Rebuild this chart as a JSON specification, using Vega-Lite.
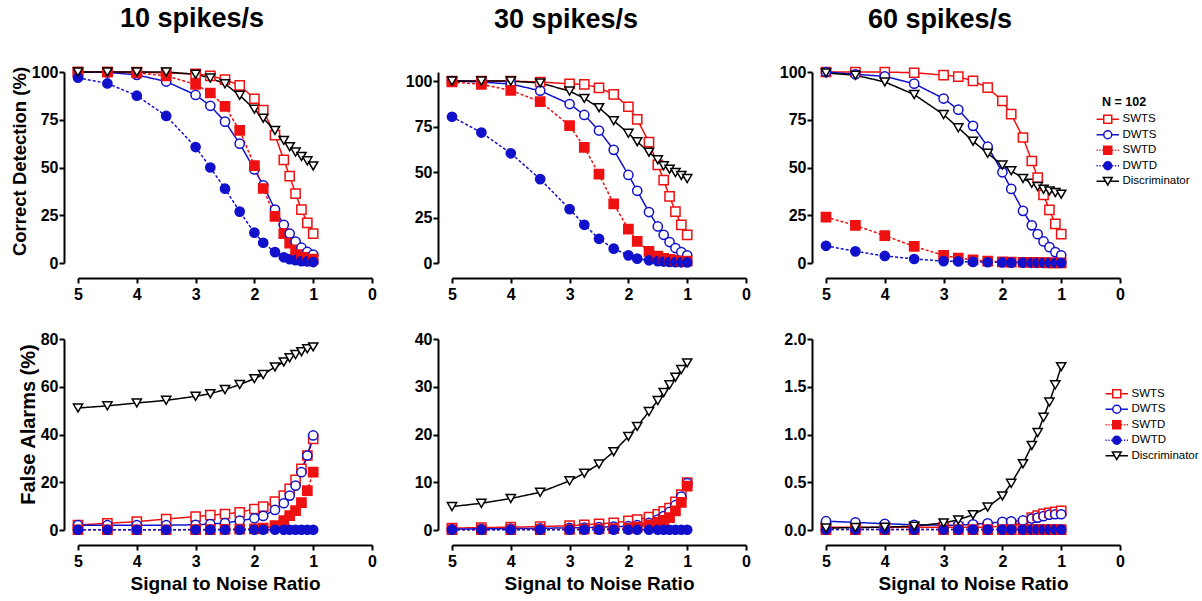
{
  "$schema": "https://vega.github.io/schema/vega-lite/v6.json",
  "padding": {"left": 10, "top": 5, "right": 5, "bottom": 5},
  "background": "white",
  "bounds": "flush",
  "columns": 3,
  "spacing": {"row": 76, "column": 80},
  "data": {"values": [
    {"r":10,"m":"CD","snr":5,"SWTS":100,"DWTS":100,"SWTD":100,"DWTD":97,"Discriminator":100},
    {"r":10,"m":"CD","snr":4.5,"SWTS":100,"DWTS":99.8,"SWTD":100,"DWTD":94,"Discriminator":100},
    {"r":10,"m":"CD","snr":4,"SWTS":100,"DWTS":98.5,"SWTD":99.5,"DWTD":87.6,"Discriminator":100},
    {"r":10,"m":"CD","snr":3.5,"SWTS":99.5,"DWTS":95,"SWTD":98,"DWTD":77,"Discriminator":100},
    {"r":10,"m":"CD","snr":3,"SWTS":99,"DWTS":88,"SWTD":93.5,"DWTD":60.7,"Discriminator":98.8},
    {"r":10,"m":"CD","snr":2.75,"SWTS":98,"DWTS":82.3,"SWTD":89,"DWTD":50,"Discriminator":96.8},
    {"r":10,"m":"CD","snr":2.5,"SWTS":96,"DWTS":74,"SWTD":82,"DWTD":38.9,"Discriminator":93.8},
    {"r":10,"m":"CD","snr":2.25,"SWTS":93,"DWTS":62.5,"SWTD":69.4,"DWTD":26.9,"Discriminator":87.8},
    {"r":10,"m":"CD","snr":2,"SWTS":86,"DWTS":49,"SWTD":51,"DWTD":15.9,"Discriminator":80.5},
    {"r":10,"m":"CD","snr":1.85,"SWTS":80,"DWTS":40.7,"SWTD":39,"DWTD":10.6,"Discriminator":75.8},
    {"r":10,"m":"CD","snr":1.65,"SWTS":67,"DWTS":28,"SWTD":24.4,"DWTD":5.7,"Discriminator":69.4},
    {"r":10,"m":"CD","snr":1.5,"SWTS":54,"DWTS":20,"SWTD":15.4,"DWTD":3,"Discriminator":64.2},
    {"r":10,"m":"CD","snr":1.4,"SWTS":45.5,"DWTS":15.4,"SWTD":10.4,"DWTD":2,"Discriminator":60.9},
    {"r":10,"m":"CD","snr":1.3,"SWTS":36.3,"DWTS":11.2,"SWTD":6.9,"DWTD":1.5,"Discriminator":58.1},
    {"r":10,"m":"CD","snr":1.2,"SWTS":28,"DWTS":8,"SWTD":4.4,"DWTD":1,"Discriminator":55.8},
    {"r":10,"m":"CD","snr":1.1,"SWTS":21,"DWTS":5.8,"SWTD":3,"DWTD":0.8,"Discriminator":53.5},
    {"r":10,"m":"CD","snr":1,"SWTS":15.4,"DWTS":4.4,"SWTD":2,"DWTD":0.5,"Discriminator":50.8},

    {"r":30,"m":"CD","snr":5,"SWTS":100,"DWTS":100,"SWTD":99.5,"DWTD":80.4,"Discriminator":100},
    {"r":30,"m":"CD","snr":4.5,"SWTS":100,"DWTS":99.5,"SWTD":98.2,"DWTD":71.7,"Discriminator":100},
    {"r":30,"m":"CD","snr":4,"SWTS":100,"DWTS":98.4,"SWTD":94.9,"DWTD":60.3,"Discriminator":100},
    {"r":30,"m":"CD","snr":3.5,"SWTS":99.5,"DWTS":94.7,"SWTD":88.7,"DWTD":46.1,"Discriminator":99},
    {"r":30,"m":"CD","snr":3,"SWTS":98.5,"DWTS":87.4,"SWTD":75.5,"DWTD":29.6,"Discriminator":94.5},
    {"r":30,"m":"CD","snr":2.75,"SWTS":98.2,"DWTS":81.4,"SWTD":63.6,"DWTD":21,"Discriminator":90.5},
    {"r":30,"m":"CD","snr":2.5,"SWTS":96.3,"DWTS":72.8,"SWTD":48.8,"DWTD":13.3,"Discriminator":85.4},
    {"r":30,"m":"CD","snr":2.25,"SWTS":92.7,"DWTS":62.2,"SWTD":32.5,"DWTD":7.9,"Discriminator":78.2},
    {"r":30,"m":"CD","snr":2,"SWTS":85.9,"DWTS":48.4,"SWTD":18.6,"DWTD":4.2,"Discriminator":71.3},
    {"r":30,"m":"CD","snr":1.85,"SWTS":79,"DWTS":39.7,"SWTD":11.9,"DWTD":2.4,"Discriminator":66.7},
    {"r":30,"m":"CD","snr":1.65,"SWTS":66.4,"DWTS":28,"SWTD":6.4,"DWTD":1.5,"Discriminator":60.9},
    {"r":30,"m":"CD","snr":1.5,"SWTS":53.9,"DWTS":20.1,"SWTD":3.8,"DWTD":1,"Discriminator":56.7},
    {"r":30,"m":"CD","snr":1.4,"SWTS":45.5,"DWTS":15.5,"SWTD":2.6,"DWTD":0.8,"Discriminator":53.4},
    {"r":30,"m":"CD","snr":1.3,"SWTS":36.6,"DWTS":11.5,"SWTD":2,"DWTD":0.6,"Discriminator":51.6},
    {"r":30,"m":"CD","snr":1.2,"SWTS":28.3,"DWTS":8.2,"SWTD":1.5,"DWTD":0.5,"Discriminator":49.7},
    {"r":30,"m":"CD","snr":1.1,"SWTS":21,"DWTS":6,"SWTD":1.2,"DWTD":0.4,"Discriminator":48.1},
    {"r":30,"m":"CD","snr":1,"SWTS":15.5,"DWTS":4.2,"SWTD":1,"DWTD":0.3,"Discriminator":46.4},

    {"r":60,"m":"CD","snr":5,"SWTS":100,"DWTS":100,"SWTD":24,"DWTD":9,"Discriminator":99.5},
    {"r":60,"m":"CD","snr":4.5,"SWTS":100,"DWTS":98.8,"SWTD":19.7,"DWTD":6.1,"Discriminator":98.3},
    {"r":60,"m":"CD","snr":4,"SWTS":100,"DWTS":97.7,"SWTD":14.3,"DWTD":3.7,"Discriminator":94.8},
    {"r":60,"m":"CD","snr":3.5,"SWTS":99.6,"DWTS":93.9,"SWTD":8.7,"DWTD":2.1,"Discriminator":88.2},
    {"r":60,"m":"CD","snr":3,"SWTS":98.4,"DWTS":86.1,"SWTD":4,"DWTD":1,"Discriminator":77.7},
    {"r":60,"m":"CD","snr":2.75,"SWTS":97.6,"DWTS":80.3,"SWTD":2.6,"DWTD":0.8,"Discriminator":70.8},
    {"r":60,"m":"CD","snr":2.5,"SWTS":95.3,"DWTS":71.8,"SWTD":1.6,"DWTD":0.6,"Discriminator":63.8},
    {"r":60,"m":"CD","snr":2.25,"SWTS":91.8,"DWTS":60.9,"SWTD":1,"DWTD":0.4,"Discriminator":57.4},
    {"r":60,"m":"CD","snr":2,"SWTS":84.9,"DWTS":47.5,"SWTD":0.6,"DWTD":0.3,"Discriminator":51.3},
    {"r":60,"m":"CD","snr":1.85,"SWTS":77.9,"DWTS":38.8,"SWTD":0.5,"DWTD":0.2,"Discriminator":48.3},
    {"r":60,"m":"CD","snr":1.65,"SWTS":65.7,"DWTS":27.3,"SWTD":0.4,"DWTD":0.2,"Discriminator":44.3},
    {"r":60,"m":"CD","snr":1.5,"SWTS":53.4,"DWTS":19.7,"SWTD":0.3,"DWTD":0.1,"Discriminator":41.7},
    {"r":60,"m":"CD","snr":1.4,"SWTS":44.7,"DWTS":15.1,"SWTD":0.2,"DWTD":0.1,"Discriminator":40},
    {"r":60,"m":"CD","snr":1.3,"SWTS":35.7,"DWTS":11.3,"SWTD":0.2,"DWTD":0.1,"Discriminator":38.6},
    {"r":60,"m":"CD","snr":1.2,"SWTS":27.8,"DWTS":8.3,"SWTD":0.1,"DWTD":0.1,"Discriminator":37.7},
    {"r":60,"m":"CD","snr":1.1,"SWTS":20.5,"DWTS":5.7,"SWTD":0.1,"DWTD":0.1,"Discriminator":36.9},
    {"r":60,"m":"CD","snr":1,"SWTS":15.1,"DWTS":4,"SWTD":0.1,"DWTD":0.1,"Discriminator":36},

    {"r":10,"m":"FA","snr":5,"SWTS":2.1,"DWTS":2,"SWTD":0.1,"DWTD":0.1,"Discriminator":51.1},
    {"r":10,"m":"FA","snr":4.5,"SWTS":2.8,"DWTS":2,"SWTD":0.1,"DWTD":0.1,"Discriminator":52},
    {"r":10,"m":"FA","snr":4,"SWTS":3.5,"DWTS":2,"SWTD":0.1,"DWTD":0.1,"Discriminator":53.2},
    {"r":10,"m":"FA","snr":3.5,"SWTS":4.6,"DWTS":2,"SWTD":0.1,"DWTD":0.1,"Discriminator":54.3},
    {"r":10,"m":"FA","snr":3,"SWTS":5.6,"DWTS":2.2,"SWTD":0.2,"DWTD":0.1,"Discriminator":56},
    {"r":10,"m":"FA","snr":2.75,"SWTS":6.2,"DWTS":2.5,"SWTD":0.2,"DWTD":0.1,"Discriminator":57.1},
    {"r":10,"m":"FA","snr":2.5,"SWTS":6.7,"DWTS":2.9,"SWTD":0.3,"DWTD":0.1,"Discriminator":58.8},
    {"r":10,"m":"FA","snr":2.25,"SWTS":7.4,"DWTS":3.9,"SWTD":0.4,"DWTD":0.1,"Discriminator":60.9},
    {"r":10,"m":"FA","snr":2,"SWTS":8.8,"DWTS":4.9,"SWTD":0.5,"DWTD":0.1,"Discriminator":63.4},
    {"r":10,"m":"FA","snr":1.85,"SWTS":9.8,"DWTS":5.9,"SWTD":0.8,"DWTD":0.1,"Discriminator":65.1},
    {"r":10,"m":"FA","snr":1.65,"SWTS":11.9,"DWTS":8.4,"SWTD":1.8,"DWTD":0.1,"Discriminator":68.3},
    {"r":10,"m":"FA","snr":1.5,"SWTS":14.4,"DWTS":11.2,"SWTD":3.9,"DWTD":0.1,"Discriminator":70.4},
    {"r":10,"m":"FA","snr":1.4,"SWTS":17.2,"DWTS":14.4,"SWTD":6,"DWTD":0.1,"Discriminator":72.1},
    {"r":10,"m":"FA","snr":1.3,"SWTS":21,"DWTS":18.6,"SWTD":8.1,"DWTD":0.1,"Discriminator":73.5},
    {"r":10,"m":"FA","snr":1.2,"SWTS":25.6,"DWTS":24.2,"SWTD":11.5,"DWTD":0.1,"Discriminator":74.7},
    {"r":10,"m":"FA","snr":1.1,"SWTS":31.2,"DWTS":31.2,"SWTD":16.5,"DWTD":0.1,"Discriminator":75.9},
    {"r":10,"m":"FA","snr":1,"SWTS":38.2,"DWTS":39.6,"SWTD":24.2,"DWTD":0.1,"Discriminator":76.7},

    {"r":30,"m":"FA","snr":5,"SWTS":0.4,"DWTS":0.2,"SWTD":0.05,"DWTD":0.05,"Discriminator":4.9},
    {"r":30,"m":"FA","snr":4.5,"SWTS":0.5,"DWTS":0.25,"SWTD":0.05,"DWTD":0.05,"Discriminator":5.6},
    {"r":30,"m":"FA","snr":4,"SWTS":0.6,"DWTS":0.3,"SWTD":0.1,"DWTD":0.05,"Discriminator":6.6},
    {"r":30,"m":"FA","snr":3.5,"SWTS":0.7,"DWTS":0.35,"SWTD":0.1,"DWTD":0.05,"Discriminator":7.9},
    {"r":30,"m":"FA","snr":3,"SWTS":0.9,"DWTS":0.45,"SWTD":0.15,"DWTD":0.05,"Discriminator":10.3},
    {"r":30,"m":"FA","snr":2.75,"SWTS":1.1,"DWTS":0.5,"SWTD":0.2,"DWTD":0.05,"Discriminator":11.9},
    {"r":30,"m":"FA","snr":2.5,"SWTS":1.3,"DWTS":0.6,"SWTD":0.25,"DWTD":0.05,"Discriminator":13.8},
    {"r":30,"m":"FA","snr":2.25,"SWTS":1.5,"DWTS":0.7,"SWTD":0.3,"DWTD":0.05,"Discriminator":16.4},
    {"r":30,"m":"FA","snr":2,"SWTS":1.9,"DWTS":0.8,"SWTD":0.4,"DWTD":0.05,"Discriminator":19.6},
    {"r":30,"m":"FA","snr":1.85,"SWTS":2.2,"DWTS":1,"SWTD":0.6,"DWTD":0.05,"Discriminator":21.7},
    {"r":30,"m":"FA","snr":1.65,"SWTS":2.7,"DWTS":1.5,"SWTD":1.1,"DWTD":0.05,"Discriminator":24.8},
    {"r":30,"m":"FA","snr":1.5,"SWTS":3.3,"DWTS":2.2,"SWTD":1.6,"DWTD":0.05,"Discriminator":27.1},
    {"r":30,"m":"FA","snr":1.4,"SWTS":3.9,"DWTS":2.9,"SWTD":2,"DWTD":0.05,"Discriminator":28.8},
    {"r":30,"m":"FA","snr":1.3,"SWTS":4.6,"DWTS":3.8,"SWTD":2.6,"DWTD":0.05,"Discriminator":30.4},
    {"r":30,"m":"FA","snr":1.2,"SWTS":5.9,"DWTS":5.2,"SWTD":4,"DWTD":0.05,"Discriminator":32},
    {"r":30,"m":"FA","snr":1.1,"SWTS":7.4,"DWTS":7,"SWTD":5.8,"DWTD":0.05,"Discriminator":33.6},
    {"r":30,"m":"FA","snr":1,"SWTS":9.9,"DWTS":9.8,"SWTD":9.2,"DWTD":0.05,"Discriminator":35},

    {"r":60,"m":"FA","snr":5,"SWTS":0.03,"DWTS":0.092,"SWTD":0.005,"DWTD":0.005,"Discriminator":0.02},
    {"r":60,"m":"FA","snr":4.5,"SWTS":0.03,"DWTS":0.08,"SWTD":0.005,"DWTD":0.005,"Discriminator":0.025},
    {"r":60,"m":"FA","snr":4,"SWTS":0.03,"DWTS":0.065,"SWTD":0.005,"DWTD":0.005,"Discriminator":0.03},
    {"r":60,"m":"FA","snr":3.5,"SWTS":0.03,"DWTS":0.055,"SWTD":0.005,"DWTD":0.005,"Discriminator":0.04},
    {"r":60,"m":"FA","snr":3,"SWTS":0.03,"DWTS":0.05,"SWTD":0.005,"DWTD":0.005,"Discriminator":0.074},
    {"r":60,"m":"FA","snr":2.75,"SWTS":0.03,"DWTS":0.05,"SWTD":0.005,"DWTD":0.005,"Discriminator":0.106},
    {"r":60,"m":"FA","snr":2.5,"SWTS":0.03,"DWTS":0.06,"SWTD":0.005,"DWTD":0.005,"Discriminator":0.16},
    {"r":60,"m":"FA","snr":2.25,"SWTS":0.03,"DWTS":0.07,"SWTD":0.005,"DWTD":0.005,"Discriminator":0.24},
    {"r":60,"m":"FA","snr":2,"SWTS":0.04,"DWTS":0.085,"SWTD":0.005,"DWTD":0.005,"Discriminator":0.357},
    {"r":60,"m":"FA","snr":1.85,"SWTS":0.05,"DWTS":0.09,"SWTD":0.005,"DWTD":0.005,"Discriminator":0.489},
    {"r":60,"m":"FA","snr":1.65,"SWTS":0.07,"DWTS":0.1,"SWTD":0.005,"DWTD":0.005,"Discriminator":0.694},
    {"r":60,"m":"FA","snr":1.5,"SWTS":0.13,"DWTS":0.12,"SWTD":0.005,"DWTD":0.005,"Discriminator":0.885},
    {"r":60,"m":"FA","snr":1.4,"SWTS":0.15,"DWTS":0.13,"SWTD":0.005,"DWTD":0.005,"Discriminator":1.02},
    {"r":60,"m":"FA","snr":1.3,"SWTS":0.17,"DWTS":0.145,"SWTD":0.005,"DWTD":0.005,"Discriminator":1.18},
    {"r":60,"m":"FA","snr":1.2,"SWTS":0.18,"DWTS":0.16,"SWTD":0.005,"DWTD":0.005,"Discriminator":1.34},
    {"r":60,"m":"FA","snr":1.1,"SWTS":0.19,"DWTS":0.165,"SWTD":0.005,"DWTD":0.005,"Discriminator":1.52},
    {"r":60,"m":"FA","snr":1,"SWTS":0.2,"DWTS":0.165,"SWTD":0.005,"DWTD":0.005,"Discriminator":1.71}
  ]},
  "transform": [{"fold": ["SWTS","DWTS","SWTD","DWTD","Discriminator"], "as": ["series","value"]}],
  "concat": [
    {
      "width": 294, "height": 191,
      "title": {"text": "10 spikes/s", "frame": "group", "dx": -33, "offset": 31},
      "transform": [{"filter": "datum.r === 10 && datum.m === 'CD'"}],
      "encoding": {
        "x": {"field": "snr", "type": "quantitative", "scale": {"domain": [5,0], "nice": false, "zero": false}, "axis": {"values": [5,4,3,2,1,0], "title": null}},
        "y": {"field": "value", "type": "quantitative", "scale": {"domain": [0,100], "nice": false}, "axis": {"values": [0,25,50,75,100], "title": "Correct Detection (%)", "titleFontSize": 18.5, "titleY": 89}}
      },
      "layer": [
        {"mark": {"type": "line", "strokeWidth": 1.5},
         "encoding": {
           "detail": {"field": "series"},
           "stroke": {"condition": [{"test": "datum.series === 'SWTS' || datum.series === 'SWTD'", "value": "#ee1111"}, {"test": "datum.series === 'DWTS' || datum.series === 'DWTD'", "value": "#1111cc"}], "value": "black"},
           "strokeDash": {"condition": {"test": "datum.series === 'SWTD' || datum.series === 'DWTD'", "value": [3,2]}, "value": [1,0]}}},
        {"mark": {"type": "point", "size": 85, "strokeWidth": 1.5, "opacity": 1},
         "encoding": {
           "shape": {"condition": [{"test": "datum.series === 'SWTS' || datum.series === 'SWTD'", "value": "square"}, {"test": "datum.series === 'DWTS' || datum.series === 'DWTD'", "value": "circle"}], "value": "triangle-down"},
           "stroke": {"condition": [{"test": "datum.series === 'SWTS' || datum.series === 'SWTD'", "value": "#ee1111"}, {"test": "datum.series === 'DWTS' || datum.series === 'DWTD'", "value": "#1111cc"}], "value": "black"},
           "fill": {"condition": [{"test": "datum.series === 'SWTD'", "value": "#ee1111"}, {"test": "datum.series === 'DWTD'", "value": "#1111cc"}], "value": "white"}}}
      ]
    },
    {
      "width": 294, "height": 191,
      "title": {"text": "30 spikes/s", "frame": "group", "dx": -33, "offset": 38},
      "transform": [{"filter": "datum.r === 30 && datum.m === 'CD'"}],
      "encoding": {
        "x": {"field": "snr", "type": "quantitative", "scale": {"domain": [5,0], "nice": false, "zero": false}, "axis": {"values": [5,4,3,2,1,0], "title": null}},
        "y": {"field": "value", "type": "quantitative", "scale": {"domain": [0,105], "nice": false}, "axis": {"values": [0,25,50,75,100], "title": null}}
      },
      "layer": [
        {"mark": {"type": "line", "strokeWidth": 1.5},
         "encoding": {
           "detail": {"field": "series"},
           "stroke": {"condition": [{"test": "datum.series === 'SWTS' || datum.series === 'SWTD'", "value": "#ee1111"}, {"test": "datum.series === 'DWTS' || datum.series === 'DWTD'", "value": "#1111cc"}], "value": "black"},
           "strokeDash": {"condition": {"test": "datum.series === 'SWTD' || datum.series === 'DWTD'", "value": [3,2]}, "value": [1,0]}}},
        {"mark": {"type": "point", "size": 85, "strokeWidth": 1.5, "opacity": 1},
         "encoding": {
           "shape": {"condition": [{"test": "datum.series === 'SWTS' || datum.series === 'SWTD'", "value": "square"}, {"test": "datum.series === 'DWTS' || datum.series === 'DWTD'", "value": "circle"}], "value": "triangle-down"},
           "stroke": {"condition": [{"test": "datum.series === 'SWTS' || datum.series === 'SWTD'", "value": "#ee1111"}, {"test": "datum.series === 'DWTS' || datum.series === 'DWTD'", "value": "#1111cc"}], "value": "black"},
           "fill": {"condition": [{"test": "datum.series === 'SWTD'", "value": "#ee1111"}, {"test": "datum.series === 'DWTD'", "value": "#1111cc"}], "value": "white"}}}
      ]
    },
    {
      "width": 294, "height": 191,
      "title": {"text": "60 spikes/s", "frame": "group", "dx": -33, "offset": 30},
      "transform": [{"filter": "datum.r === 60 && datum.m === 'CD'"}],
      "encoding": {
        "x": {"field": "snr", "type": "quantitative", "scale": {"domain": [5,0], "nice": false, "zero": false}, "axis": {"values": [5,4,3,2,1,0], "title": null}},
        "y": {"field": "value", "type": "quantitative", "scale": {"domain": [0,100], "nice": false}, "axis": {"values": [0,25,50,75,100], "title": null}}
      },
      "layer": [
        {"mark": {"type": "line", "strokeWidth": 1.5},
         "encoding": {
           "detail": {"field": "series"},
           "stroke": {"condition": [{"test": "datum.series === 'SWTS' || datum.series === 'SWTD'", "value": "#ee1111"}, {"test": "datum.series === 'DWTS' || datum.series === 'DWTD'", "value": "#1111cc"}], "value": "black"},
           "strokeDash": {"condition": {"test": "datum.series === 'SWTD' || datum.series === 'DWTD'", "value": [3,2]}, "value": [1,0]}}},
        {"mark": {"type": "point", "size": 85, "strokeWidth": 1.5, "opacity": 1},
         "encoding": {
           "shape": {"condition": [{"test": "datum.series === 'SWTS' || datum.series === 'SWTD'", "value": "square"}, {"test": "datum.series === 'DWTS' || datum.series === 'DWTD'", "value": "circle"}], "value": "triangle-down"},
           "stroke": {"condition": [{"test": "datum.series === 'SWTS' || datum.series === 'SWTD'", "value": "#ee1111"}, {"test": "datum.series === 'DWTS' || datum.series === 'DWTD'", "value": "#1111cc"}], "value": "black"},
           "fill": {"condition": [{"test": "datum.series === 'SWTD'", "value": "#ee1111"}, {"test": "datum.series === 'DWTD'", "value": "#1111cc"}], "value": "white"}}},
        {"transform": [{"filter": "false"}],
         "mark": {"type": "point", "strokeWidth": 1.5},
         "encoding": {
           "shape": {"field": "series", "type": "nominal",
             "scale": {"domain": ["SWTS","DWTS","SWTD","DWTD","Discriminator"], "range": ["M-2.8,0H-1M1,0H2.8M-1,-1H1V1H-1Z", "M-2.8,0H-1M1,0H2.8M1,0A1,1,0,1,1,-1,0A1,1,0,1,1,1,0Z", "M-2.8,0H-2.5M-2.1,0H-1.8M-1.4,0H-1.1M1.1,0H1.4M1.8,0H2.1M2.5,0H2.8M-1,-1H1V1H-1Z", "M-2.8,0H-2.5M-2.1,0H-1.8M-1.4,0H-1.1M1.1,0H1.4M1.8,0H2.1M2.5,0H2.8M1,0A1,1,0,1,1,-1,0A1,1,0,1,1,1,0Z", "M-2.8,0H-0.55M0.55,0H2.8M-1.1,-0.95H1.1L0,0.95Z"]},
             "legend": {"title": "N = 102", "orient": "none", "legendX": 276, "legendY": 24}},
           "stroke": {"field": "series", "type": "nominal", "scale": {"domain": ["SWTS","DWTS","SWTD","DWTD","Discriminator"], "range": ["#ee1111","#1111cc","#ee1111","#1111cc","black"]}},
           "fill": {"field": "series", "type": "nominal", "scale": {"domain": ["SWTS","DWTS","SWTD","DWTD","Discriminator"], "range": ["white","white","#ee1111","#1111cc","white"]}}}}
      ]
    },
    {
      "width": 294, "height": 191,
      "transform": [{"filter": "datum.r === 10 && datum.m === 'FA'"}],
      "encoding": {
        "x": {"field": "snr", "type": "quantitative", "scale": {"domain": [5,0], "nice": false, "zero": false}, "axis": {"values": [5,4,3,2,1,0], "title": "Signal to Noise Ratio"}},
        "y": {"field": "value", "type": "quantitative", "scale": {"domain": [0,80], "nice": false}, "axis": {"values": [0,20,40,60,80], "title": "False Alarms (%)", "titleFontSize": 20, "titleY": 85}}
      },
      "layer": [
        {"mark": {"type": "line", "strokeWidth": 1.5},
         "encoding": {
           "detail": {"field": "series"},
           "stroke": {"condition": [{"test": "datum.series === 'SWTS' || datum.series === 'SWTD'", "value": "#ee1111"}, {"test": "datum.series === 'DWTS' || datum.series === 'DWTD'", "value": "#1111cc"}], "value": "black"},
           "strokeDash": {"condition": {"test": "datum.series === 'SWTD' || datum.series === 'DWTD'", "value": [3,2]}, "value": [1,0]}}},
        {"mark": {"type": "point", "size": 85, "strokeWidth": 1.5, "opacity": 1},
         "encoding": {
           "shape": {"condition": [{"test": "datum.series === 'SWTS' || datum.series === 'SWTD'", "value": "square"}, {"test": "datum.series === 'DWTS' || datum.series === 'DWTD'", "value": "circle"}], "value": "triangle-down"},
           "stroke": {"condition": [{"test": "datum.series === 'SWTS' || datum.series === 'SWTD'", "value": "#ee1111"}, {"test": "datum.series === 'DWTS' || datum.series === 'DWTD'", "value": "#1111cc"}], "value": "black"},
           "fill": {"condition": [{"test": "datum.series === 'SWTD'", "value": "#ee1111"}, {"test": "datum.series === 'DWTD'", "value": "#1111cc"}], "value": "white"}}}
      ]
    },
    {
      "width": 294, "height": 191,
      "transform": [{"filter": "datum.r === 30 && datum.m === 'FA'"}],
      "encoding": {
        "x": {"field": "snr", "type": "quantitative", "scale": {"domain": [5,0], "nice": false, "zero": false}, "axis": {"values": [5,4,3,2,1,0], "title": "Signal to Noise Ratio"}},
        "y": {"field": "value", "type": "quantitative", "scale": {"domain": [0,40], "nice": false}, "axis": {"values": [0,10,20,30,40], "title": null}}
      },
      "layer": [
        {"mark": {"type": "line", "strokeWidth": 1.5},
         "encoding": {
           "detail": {"field": "series"},
           "stroke": {"condition": [{"test": "datum.series === 'SWTS' || datum.series === 'SWTD'", "value": "#ee1111"}, {"test": "datum.series === 'DWTS' || datum.series === 'DWTD'", "value": "#1111cc"}], "value": "black"},
           "strokeDash": {"condition": {"test": "datum.series === 'SWTD' || datum.series === 'DWTD'", "value": [3,2]}, "value": [1,0]}}},
        {"mark": {"type": "point", "size": 85, "strokeWidth": 1.5, "opacity": 1},
         "encoding": {
           "shape": {"condition": [{"test": "datum.series === 'SWTS' || datum.series === 'SWTD'", "value": "square"}, {"test": "datum.series === 'DWTS' || datum.series === 'DWTD'", "value": "circle"}], "value": "triangle-down"},
           "stroke": {"condition": [{"test": "datum.series === 'SWTS' || datum.series === 'SWTD'", "value": "#ee1111"}, {"test": "datum.series === 'DWTS' || datum.series === 'DWTD'", "value": "#1111cc"}], "value": "black"},
           "fill": {"condition": [{"test": "datum.series === 'SWTD'", "value": "#ee1111"}, {"test": "datum.series === 'DWTD'", "value": "#1111cc"}], "value": "white"}}}
      ]
    },
    {
      "width": 294, "height": 191,
      "transform": [{"filter": "datum.r === 60 && datum.m === 'FA'"}],
      "encoding": {
        "x": {"field": "snr", "type": "quantitative", "scale": {"domain": [5,0], "nice": false, "zero": false}, "axis": {"values": [5,4,3,2,1,0], "title": "Signal to Noise Ratio"}},
        "y": {"field": "value", "type": "quantitative", "scale": {"domain": [0,2], "nice": false}, "axis": {"values": [0,0.5,1,1.5,2], "format": ".1f", "title": null}}
      },
      "layer": [
        {"mark": {"type": "line", "strokeWidth": 1.5},
         "encoding": {
           "detail": {"field": "series"},
           "stroke": {"condition": [{"test": "datum.series === 'SWTS' || datum.series === 'SWTD'", "value": "#ee1111"}, {"test": "datum.series === 'DWTS' || datum.series === 'DWTD'", "value": "#1111cc"}], "value": "black"},
           "strokeDash": {"condition": {"test": "datum.series === 'SWTD' || datum.series === 'DWTD'", "value": [3,2]}, "value": [1,0]}}},
        {"mark": {"type": "point", "size": 85, "strokeWidth": 1.5, "opacity": 1},
         "encoding": {
           "shape": {"condition": [{"test": "datum.series === 'SWTS' || datum.series === 'SWTD'", "value": "square"}, {"test": "datum.series === 'DWTS' || datum.series === 'DWTD'", "value": "circle"}], "value": "triangle-down"},
           "stroke": {"condition": [{"test": "datum.series === 'SWTS' || datum.series === 'SWTD'", "value": "#ee1111"}, {"test": "datum.series === 'DWTS' || datum.series === 'DWTD'", "value": "#1111cc"}], "value": "black"},
           "fill": {"condition": [{"test": "datum.series === 'SWTD'", "value": "#ee1111"}, {"test": "datum.series === 'DWTD'", "value": "#1111cc"}], "value": "white"}}},
        {"transform": [{"filter": "false"}],
         "mark": {"type": "point", "strokeWidth": 1.5},
         "encoding": {
           "shape": {"field": "series", "type": "nominal",
             "scale": {"domain": ["SWTS","DWTS","SWTD","DWTD","Discriminator"], "range": ["M-2.8,0H-1M1,0H2.8M-1,-1H1V1H-1Z", "M-2.8,0H-1M1,0H2.8M1,0A1,1,0,1,1,-1,0A1,1,0,1,1,1,0Z", "M-2.8,0H-2.5M-2.1,0H-1.8M-1.4,0H-1.1M1.1,0H1.4M1.8,0H2.1M2.5,0H2.8M-1,-1H1V1H-1Z", "M-2.8,0H-2.5M-2.1,0H-1.8M-1.4,0H-1.1M1.1,0H1.4M1.8,0H2.1M2.5,0H2.8M1,0A1,1,0,1,1,-1,0A1,1,0,1,1,1,0Z", "M-2.8,0H-0.55M0.55,0H2.8M-1.1,-0.95H1.1L0,0.95Z"]},
             "legend": {"title": null, "orient": "none", "legendX": 285, "legendY": 49}},
           "stroke": {"field": "series", "type": "nominal", "scale": {"domain": ["SWTS","DWTS","SWTD","DWTD","Discriminator"], "range": ["#ee1111","#1111cc","#ee1111","#1111cc","black"]}},
           "fill": {"field": "series", "type": "nominal", "scale": {"domain": ["SWTS","DWTS","SWTD","DWTD","Discriminator"], "range": ["white","white","#ee1111","#1111cc","white"]}}}}
      ]
    }
  ],
  "resolve": {
    "scale": {"x": "independent", "y": "independent", "shape": "independent", "stroke": "independent", "fill": "independent"},
    "legend": {"shape": "independent", "stroke": "independent", "fill": "independent"}
  },
  "config": {
    "view": {"stroke": null},
    "font": "Liberation Sans",
    "title": {"font": "Liberation Sans", "fontSize": 27, "fontWeight": "bold", "color": "black", "anchor": "middle"},
    "axis": {
      "grid": false, "domainColor": "black", "domainWidth": 2, "tickColor": "black", "tickWidth": 2, "tickSize": 5,
      "labelFont": "Liberation Sans", "labelFontWeight": "bold", "labelFontSize": 16, "labelColor": "black", "labelFlush": false,
      "titleFont": "Liberation Sans", "titleFontWeight": "bold", "titleColor": "black"
    },
    "axisX": {"offset": 15, "labelPadding": 3, "titleFontSize": 19, "titlePadding": 5},
    "axisY": {"offset": 14, "labelPadding": 1, "titlePadding": 2},
    "legend": {
      "padding": 0, "symbolSize": 64, "symbolStrokeWidth": 1.5, "symbolOpacity": 1, "rowPadding": 0.5, "labelOffset": 9,
      "labelFont": "Liberation Sans", "labelFontSize": 11.5, "labelColor": "black", "labelLimit": 0,
      "titleFont": "Liberation Sans", "titleFontSize": 12.5, "titleFontWeight": "bold", "titleColor": "black", "titlePadding": 5
    }
  }
}
